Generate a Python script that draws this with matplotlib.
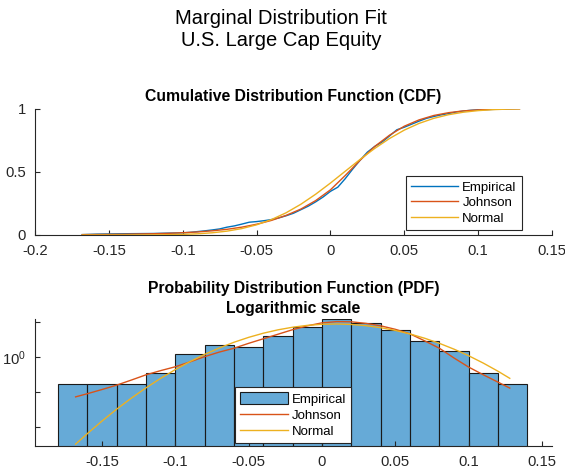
import numpy as np
import matplotlib
matplotlib.use('Agg')
import matplotlib.pyplot as plt
from matplotlib.ticker import FixedLocator, NullLocator

plt.rcParams['font.family'] = ['Liberation Sans', 'DejaVu Sans']

# histogram of returns (counts per bin)
bin_edges = [-0.18, -0.16, -0.14, -0.12, -0.10, -0.08, -0.06, -0.04, -0.02,
             0.0, 0.02, 0.04, 0.06, 0.08, 0.10, 0.12, 0.14]
bin_counts = [1, 1, 1, 2, 7, 13, 11, 23, 41, 70, 55, 34, 17, 9, 2, 1]

# fitted curves
x_fit = [-0.168, -0.16, -0.15, -0.14, -0.13, -0.12, -0.11, -0.10, -0.09, -0.08,
         -0.07, -0.06, -0.05, -0.04, -0.03, -0.02, -0.01, 0.0, 0.01, 0.02,
         0.03, 0.04, 0.05, 0.06, 0.07, 0.08, 0.09, 0.10, 0.11, 0.12, 0.128]
johnson_cdf = [0.003, 0.004, 0.005, 0.006, 0.008, 0.010, 0.013, 0.018, 0.024, 0.033,
               0.045, 0.062, 0.085, 0.115, 0.155, 0.205, 0.272, 0.357, 0.470, 0.590,
               0.700, 0.789, 0.860, 0.910, 0.945, 0.967, 0.981, 0.989, 0.994, 0.997, 0.998]
normal_cdf = [0.00001, 0.00003, 0.0001, 0.0002, 0.0005, 0.0011, 0.0024, 0.0050, 0.0095, 0.0175,
              0.0305, 0.0507, 0.0805, 0.1216, 0.1757, 0.2432, 0.3224, 0.4106, 0.5038, 0.5968,
              0.6844, 0.7627, 0.8292, 0.8822, 0.9224, 0.9511, 0.9707, 0.9833, 0.9909, 0.9953, 0.9973]
johnson_pdf = [0.0741, 0.0912, 0.1202, 0.1603, 0.2239, 0.3162, 0.4169, 0.5370, 0.7413, 1.047,
               1.413, 1.820, 2.512, 3.388, 4.571, 6.166, 7.943, 9.661, 10.47, 10.35,
               9.333, 7.943, 6.310, 4.677, 2.951, 1.820, 0.955, 0.525, 0.316, 0.195, 0.132]
normal_pdf = [0.0033, 0.0066, 0.0151, 0.0330, 0.0682, 0.1342, 0.2511, 0.4467, 0.7544, 1.213,
              1.854, 2.695, 3.722, 4.891, 6.106, 7.249, 8.184, 8.783, 8.963, 8.695,
              8.021, 7.033, 5.865, 4.649, 3.504, 2.510, 1.710, 1.108, 0.6819, 0.3995, 0.251]

# empirical cdf
emp_x = [-0.168, -0.158, -0.14, -0.12, -0.11, -0.10, -0.095, -0.09, -0.085, -0.08,
         -0.075, -0.07, -0.065, -0.06, -0.055, -0.05, -0.045, -0.04, -0.035, -0.03,
         -0.025, -0.02, -0.015, -0.01, -0.005, 0.0, 0.005, 0.01, 0.015, 0.02,
         0.025, 0.03, 0.035, 0.04, 0.045, 0.05, 0.055, 0.06, 0.065, 0.07,
         0.075, 0.08, 0.085, 0.09, 0.095, 0.10, 0.11, 0.12, 0.128]
emp_cdf = [0.003, 0.007, 0.010, 0.012, 0.015, 0.017, 0.021, 0.027, 0.033, 0.040,
           0.048, 0.062, 0.072, 0.086, 0.101, 0.106, 0.113, 0.122, 0.135, 0.152,
           0.172, 0.200, 0.228, 0.262, 0.300, 0.345, 0.378, 0.445, 0.520, 0.590,
           0.655, 0.700, 0.735, 0.783, 0.832, 0.852, 0.876, 0.900, 0.922, 0.937,
           0.950, 0.960, 0.972, 0.980, 0.986, 0.990, 0.993, 0.997, 1.000]

blue = '#0072BD'
red = '#D95319'
yellow = '#EDB120'
ink = '#262626'

fig = plt.figure(figsize=(5.65, 4.71), dpi=100)
ax1 = fig.add_axes([35/565, 1-235/471, 517/565, 126.5/471])
ax2 = fig.add_axes([35/565, 1-446/471, 517/565, 126.7/471])

def matlab_style(ax):
    for s in ['top', 'right']:
        ax.spines[s].set_visible(False)
    for s in ['left', 'bottom']:
        ax.spines[s].set_color(ink)
        ax.spines[s].set_linewidth(0.8)
    ax.tick_params(direction='in', length=3.6, width=0.8, color=ink,
                   labelcolor=ink, labelsize=10.7)
    ax.tick_params(axis='x', pad=6.5)
    ax.tick_params(axis='y', pad=6.5)

fig.suptitle('Marginal Distribution Fit\nU.S. Large Cap Equity', x=0.498, y=1-9/471,
             va='top', fontsize=14.5, linespacing=1.17)

# CDF
ax1.plot(emp_x, emp_cdf, color=blue, lw=1.0, label='Empirical')
ax1.plot(x_fit, johnson_cdf, color=red, lw=1.0, label='Johnson')
ax1.plot(x_fit, normal_cdf, color=yellow, lw=1.0, label='Normal')
ax1.set_xlim(-0.2, 0.15)
ax1.set_ylim(0, 1)
ax1.set_xticks([-0.2, -0.15, -0.1, -0.05, 0, 0.05, 0.1, 0.15])
ax1.set_xticklabels(['-0.2', '-0.15', '-0.1', '-0.05', '0', '0.05', '0.1', '0.15'])
ax1.set_yticks([0, 0.5, 1])
ax1.set_yticklabels(['0', '0.5', '1'])
matlab_style(ax1)
ax1.set_title('Cumulative Distribution Function (CDF)', fontweight='bold', fontsize=11.3, pad=5.2)
leg1 = ax1.legend(loc='upper right', bbox_to_anchor=(0.942, 0.466), borderaxespad=0,
                  fontsize=9.5, handlelength=3.6, handletextpad=0.3, borderpad=0.4,
                  labelspacing=0.25, fancybox=False, edgecolor=ink, framealpha=1)
leg1.get_frame().set_linewidth(0.8)

# PDF
ax2.hist(bin_edges[:-1], bins=bin_edges, weights=bin_counts, density=True,
         facecolor=(0, 0.447, 0.741, 0.6), edgecolor='#1a1a1a', lw=0.8, label='Empirical')
ax2.plot(x_fit, johnson_pdf, color=red, lw=1.0, label='Johnson')
ax2.plot(x_fit, normal_pdf, color=yellow, lw=1.0, label='Normal')
ax2.set_yscale('log')
ax2.set_xlim(-0.1957, 0.1568)
ax2.set_ylim(0.00292, 12.2)
ax2.set_xticks([-0.15, -0.1, -0.05, 0, 0.05, 0.1, 0.15])
ax2.set_xticklabels(['-0.15', '-0.1', '-0.05', '0', '0.05', '0.1', '0.15'])
ax2.yaxis.set_major_locator(FixedLocator([0.01, 0.1, 1, 10]))
ax2.yaxis.set_minor_locator(NullLocator())
ax2.set_yticklabels(['', '', r'$\mathregular{10^0}$', ''])
matlab_style(ax2)
ax2.set_title('Probability Distribution Function (PDF)\nLogarithmic scale', fontweight='bold',
              fontsize=11.3, pad=4.5, linespacing=1.4)
leg2 = ax2.legend(loc='upper left', bbox_to_anchor=(0.387, 0.466), borderaxespad=0,
                  fontsize=9.5, handlelength=3.6, handleheight=1.0, handletextpad=0.3,
                  borderpad=0.4, labelspacing=0.2, fancybox=False, edgecolor=ink, framealpha=1)
leg2.get_frame().set_linewidth(0.8)

fig.savefig('out.png', dpi=100)
